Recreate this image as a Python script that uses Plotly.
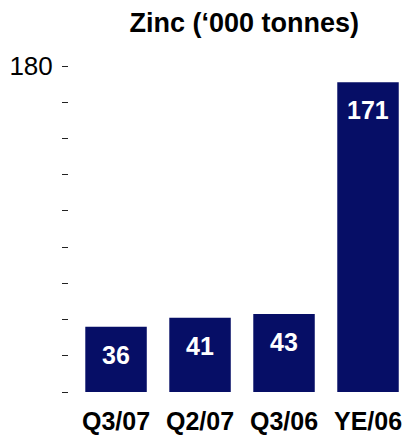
import plotly.graph_objects as go

# Zinc production, thousand tonnes
periods = ["Q3/07", "Q2/07", "Q3/06", "YE/06"]
zinc_kt = [36, 41, 43, 171]

y_tick_values = [0, 20, 40, 60, 80, 100, 120, 140, 160, 180]
y_tick_text = ["", "", "", "", "", "", "", "", "", "180"]

NAVY = "#060E66"
FONT = "Liberation Sans, Arial, sans-serif"

fig = go.Figure(
    go.Bar(
        x=periods,
        y=zinc_kt,
        marker=dict(color=NAVY, line=dict(width=0)),
        hoverinfo="skip",
    )
)

# value labels placed inside each bar, just below its top
for p, v in zip(periods, zinc_kt):
    fig.add_annotation(
        x=p, y=v, yshift=-28,
        text=str(v),
        showarrow=False,
        xanchor="center", yanchor="middle",
        font=dict(family=FONT, size=25, color="white", weight="bold"),
    )

fig.update_layout(
    width=409,
    height=435,
    margin=dict(l=69, r=0, t=66, b=43),
    paper_bgcolor="white",
    plot_bgcolor="white",
    showlegend=False,
    bargap=0.268,
    title=dict(
        text="<b>Zinc (‘000 tonnes)</b>",
        xref="container", yref="container",
        x=0.597, y=1 - 23 / 435,
        xanchor="center", yanchor="middle",
        font=dict(family=FONT, size=27, color="black"),
    ),
    xaxis=dict(
        range=[-0.56, 3.488],
        showgrid=False,
        zeroline=False,
        showline=False,
        ticks="",
        tickfont=dict(family=FONT, size=25, color="black", weight="bold"),
        ticklabelstandoff=12,
        fixedrange=True,
    ),
    yaxis=dict(
        range=[0, 180],
        tickvals=y_tick_values,
        ticktext=y_tick_text,
        ticks="outside",
        ticklen=6,
        tickwidth=1,
        tickcolor="#222222",
        showgrid=False,
        zeroline=False,
        showline=False,
        tickfont=dict(family=FONT, size=26, color="black"),
        ticklabelstandoff=4,
        fixedrange=True,
    ),
)

fig.write_html("out.html")
